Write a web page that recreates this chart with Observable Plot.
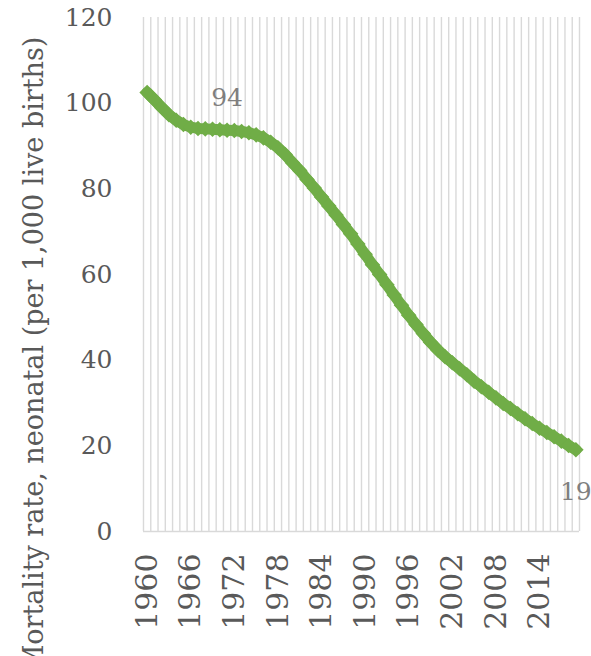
<!DOCTYPE html>
<html>
<head>
<meta charset="utf-8">
<script src="https://cdn.jsdelivr.net/npm/d3@7"></script>
<script src="https://cdn.jsdelivr.net/npm/@observablehq/plot@0.6"></script>
<style>
  html, body { margin: 0; padding: 0; background: #fff; overflow: hidden; }
  #chart svg { display: block; }
</style>
</head>
<body>
<div id="chart"></div>
<script>
const years = d3.range(1960, 2020);
const values = [
  102.5, 100.8, 99.0, 97.3, 96.0, 95.0, 94.4, 94.1, 94.0, 93.9,
  93.8, 93.7, 93.6, 93.4, 93.1, 92.6, 91.9, 90.9, 89.6, 88.0,
  86.1, 84.3, 82.2, 80.2, 78.1, 76.0, 73.9, 71.7, 69.5, 67.1,
  64.7, 62.3, 60.0, 57.6, 55.2, 52.8, 50.5, 48.3, 46.2, 44.2,
  42.4, 40.8, 39.4, 38.0, 36.6, 35.1, 33.8, 32.5, 31.2, 29.9,
  28.7, 27.5, 26.3, 25.2, 24.1, 23.1, 22.1, 21.1, 20.1, 19.1
];
const xTicks = [1960, 1966, 1972, 1978, 1984, 1990, 1996, 2002, 2008, 2014];
const yTicks = [0, 20, 40, 60, 80, 100, 120];
const labeledYears = [1971, 2019];
const yTitle = "Mortality rate, neonatal (per 1,000 live births)";

const data = years.map((year, i) => ({year, value: values[i]}));
const boundaries = years.concat([years[years.length - 1] + 1]);

const green = "#70AD47";
const grid = "#D9D9D9";
const textColor = "#595959";
const labelColor = "#7F7F7F";
const font = "DejaVu Serif";

const chart = Plot.plot({
  width: 591,
  height: 656,
  marginLeft: 143,
  marginRight: 12,
  marginTop: 17,
  marginBottom: 125,
  style: {fontFamily: font, background: "#fff", overflow: "hidden"},
  x: {domain: [years[0] - 0.5, years[years.length - 1] + 0.5]},
  y: {domain: [0, 120]},
  marks: [
    Plot.ruleX(boundaries, {x: d => d - 0.5, stroke: grid, strokeWidth: 1.4}),
    Plot.ruleY([0], {stroke: grid, strokeWidth: 1.4}),
    Plot.axisY({
      ticks: yTicks, tickSize: 0, tickPadding: 31, fontSize: 25,
      color: textColor, label: null
    }),
    Plot.axisX({
      ticks: xTicks, tickSize: 0, tickPadding: 22, tickRotate: -90, fontSize: 30,
      tickFormat: d => String(d), color: textColor, label: null
    }),
    Plot.line(data, {x: "year", y: "value", stroke: green, strokeWidth: 11, strokeLinejoin: "round"}),
    Plot.dot(data, {x: "year", y: "value", symbol: "diamond2", r: 7, fill: green, stroke: null}),
    Plot.text(data.filter(d => d.year === labeledYears[0]), {
      x: "year", y: "value", text: d => String(Math.round(d.value)),
      dy: -32, fontSize: 25, fill: labelColor
    }),
    Plot.text(data.filter(d => d.year === labeledYears[1]), {
      x: "year", y: "value", text: d => String(Math.round(d.value)),
      dy: 42, fontSize: 25, fill: labelColor
    }),
    Plot.text([yTitle], {
      frameAnchor: "left", textAnchor: "middle", text: d => d, rotate: -90, dx: -109, dy: 80,
      fontSize: 27, fill: textColor
    })
  ]
});
document.getElementById("chart").appendChild(chart);
</script>
</body>
</html>
